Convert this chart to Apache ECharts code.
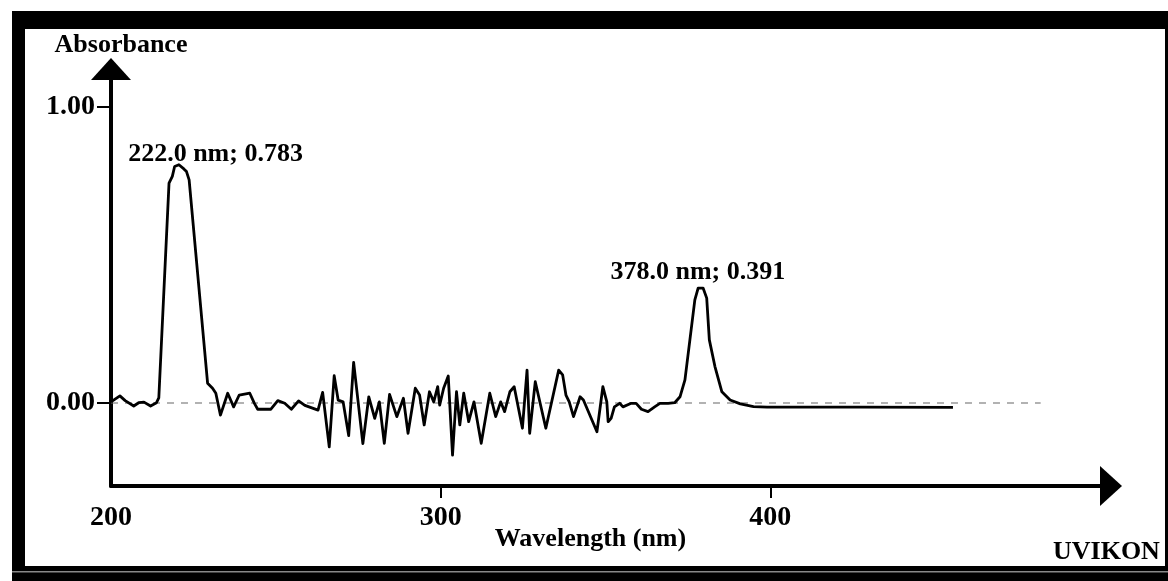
<!DOCTYPE html>
<html>
<head>
<meta charset="utf-8">
<script src="https://cdn.jsdelivr.net/npm/echarts@6/dist/echarts.min.js"></script>
<style>
html,body{margin:0;padding:0;background:#fff;}
#chart{width:1168px;height:581px;}
</style>
</head>
<body>
<div id="chart"></div>
<script>
// Spectrum trace (wavelength in nm, absorbance)
const wavelength = [200,202.7,204.3,206.9,208.4,210.0,212.0,213.8,214.5,217.6,218.6,219.3,220.6,222.1,222.9,223.7,
  229.3,230.8,231.8,233.2,235.4,237.2,238.9,242.1,243.5,244.5,248.5,250.6,252.7,254.7,256.9,258.8,262.8,264.2,
  266.2,267.7,268.9,270.4,272.1,273.6,276.4,278.2,280.0,281.4,282.9,284.5,286.7,288.7,290.1,292.3,293.6,295.0,
  296.6,297.9,299.1,299.7,300.9,302.3,303.6,304.8,305.8,307.0,308.5,310.1,312.3,314.9,316.7,318.2,319.4,321.0,
  322.3,324.8,326.2,327.0,328.7,331.9,335.8,337.0,338.0,339.0,340.3,342.3,343.3,347.4,349.2,350.4,350.8,351.7,
  352.7,354.3,355.3,357.8,359.3,360.9,362.9,364.9,366.5,369.0,371.0,372.6,374.1,375.6,377.1,378.1,379.6,380.7,
  381.5,383.2,385.3,387.8,390.9,394.9,399.0,407.1,427.4,455.4];
const absorbance = [0.004,0.024,0.008,-0.010,0.001,0.003,-0.010,0.001,0.017,0.742,0.765,0.798,0.804,0.790,0.781,0.753,
  0.067,0.050,0.033,-0.041,0.033,-0.013,0.027,0.033,-0.001,-0.021,-0.021,0.008,-0.001,-0.021,0.007,-0.008,-0.024,0.036,
  -0.148,0.092,0.010,0.004,-0.110,0.137,-0.137,0.021,-0.052,0.004,-0.136,0.029,-0.046,0.016,-0.102,0.050,0.027,-0.074,
  0.038,0.004,0.055,-0.007,0.050,0.091,-0.176,0.038,-0.074,0.033,-0.063,0.004,-0.136,0.033,-0.046,0.004,-0.029,0.038,
  0.055,-0.085,0.111,-0.102,0.072,-0.085,0.111,0.095,0.027,0.004,-0.046,0.021,0.010,-0.097,0.055,0.004,-0.063,-0.052,
  -0.013,-0.001,-0.013,-0.001,-0.001,-0.021,-0.029,-0.013,-0.001,-0.001,0.001,0.021,0.078,0.213,0.348,0.388,0.388,0.354,
  0.213,0.123,0.038,0.010,-0.003,-0.012,-0.014,-0.014,-0.014,-0.015];
// Dashed zero baseline extent
const baselineNm = [200, 482];
const baselineAbs = [0, 0];
// Peak annotations
const peakNm = [222.0, 378.0];
const peakAbs = [0.783, 0.391];
// Tick labels
const xTickValues = [200, 300, 400];
const yTickValues = [0, 1];
const xName = 'Wavelength (nm)';
const yName = 'Absorbance';
const brand = 'UVIKON';

const FONT = '"Liberation Serif","DejaVu Serif",serif';
const chart = echarts.init(document.getElementById('chart'));

const traceData = wavelength.map((w, i) => [w, absorbance[i]]);
const baseData = baselineNm.map((w, i) => [w, baselineAbs[i]]);
const peakOffsets = [[32, 0], [0, 0]];
const peakDist = [4, 2];
const peakData = peakNm.map((w, i) => ({
  value: [w, peakAbs[i]],
  label: { offset: peakOffsets[i], distance: peakDist[i] }
}));

chart.setOption({
  backgroundColor: '#fff',
  animation: false,
  grid: { left: 111, right: 68, top: 80, bottom: 95 },
  xAxis: {
    type: 'value', min: 200, max: 500,
    name: xName, nameLocation: 'middle', nameGap: 40, nameMoveOverlap: false,
    nameTextStyle: { fontFamily: FONT, fontWeight: 'bold', fontSize: 26, color: '#000', padding: [0, 30, 0, 0] },
    axisLine: { show: true, onZero: false, lineStyle: { color: '#000', width: 4 }, symbol: ['none', 'triangle'], symbolSize: [40, 22], symbolOffset: [0, 11] },
    axisTick: { show: true, customValues: [300, 400], length: 12, inside: false, lineStyle: { color: '#000', width: 2 } },
    axisLabel: { customValues: xTickValues, margin: 18, fontFamily: FONT, fontWeight: 'bold', fontSize: 28, color: '#000',
      formatter: v => String(v) },
    splitLine: { show: false }
  },
  yAxis: {
    type: 'value', min: -0.28, max: 1.09,
    name: yName, nameLocation: 'end', nameGap: 22, nameMoveOverlap: false,
    nameTextStyle: { fontFamily: FONT, fontWeight: 'bold', fontSize: 26, color: '#000', padding: [0, 0, 0, 20] },
    axisLine: { show: true, onZero: false, lineStyle: { color: '#000', width: 4 }, symbol: ['none', 'triangle'], symbolSize: [40, 22], symbolOffset: [0, 11] },
    axisTick: { show: true, customValues: yTickValues, length: 14, lineStyle: { color: '#000', width: 2 } },
    axisLabel: { customValues: yTickValues, margin: 16, fontFamily: FONT, fontWeight: 'bold', fontSize: 28, color: '#000',
      formatter: v => v.toFixed(2) },
    splitLine: { show: false }
  },
  series: [
    {
      type: 'line', data: baseData, symbol: 'none', silent: true, z: 1,
      lineStyle: { color: '#666', width: 1.2, type: [7, 7] }
    },
    {
      type: 'line', data: traceData, symbol: 'none', z: 3,
      lineStyle: { color: '#000', width: 2.8, join: 'round' }
    },
    {
      type: 'scatter', data: peakData, symbolSize: 0, z: 4,
      itemStyle: { opacity: 1 },
      label: {
        show: true, position: 'top', fontFamily: FONT, fontWeight: 'bold', fontSize: 26, color: '#000',
        formatter: p => p.value[0].toFixed(1) + ' nm; ' + p.value[1].toFixed(3)
      }
    }
  ],
  graphic: [
    { type: 'rect', shape: { x: 12, y: 11, width: 1156, height: 18 }, style: { fill: '#000' } },
    { type: 'rect', shape: { x: 12, y: 11, width: 13, height: 556 }, style: { fill: '#000' } },
    { type: 'rect', shape: { x: 12, y: 566, width: 1156, height: 15 }, style: { fill: '#000' } },
    { type: 'rect', shape: { x: 12, y: 571, width: 1156, height: 1.5 }, style: { fill: '#888' } },
    { type: 'rect', shape: { x: 1165, y: 11, width: 3, height: 560 }, style: { fill: '#000' } },
    { type: 'text', left: 1053, top: 539, style: { text: brand, font: 'bold 26px ' + FONT, fill: '#000' } }
  ]
});
</script>
</body>
</html>
